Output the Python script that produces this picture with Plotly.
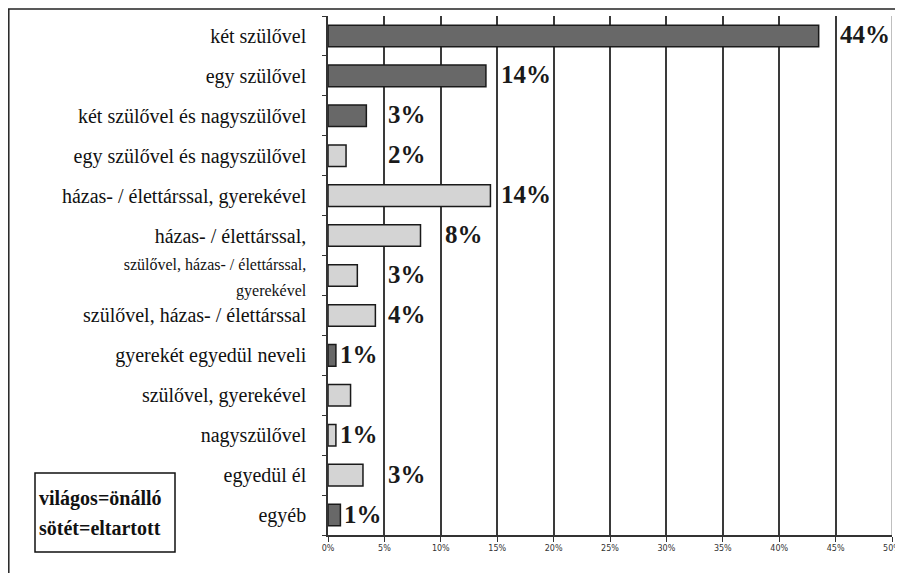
import math
import plotly.graph_objects as go

categories = [
    "két szülővel",
    "egy szülővel",
    "két szülővel és nagyszülővel",
    "egy szülővel és nagyszülővel",
    "házas- / élettárssal, gyerekével",
    "házas- / élettárssal,",
    "szülővel, házas- / élettárssal, gyerekével",
    "szülővel, házas- / élettárssal",
    "gyerekét egyedül neveli",
    "szülővel, gyerekével",
    "nagyszülővel",
    "egyedül él",
    "egyéb",
]
values = [43.5, 14.0, 3.4, 1.6, 14.4, 8.2, 2.6, 4.2, 0.7, 2.0, 0.7, 3.1, 1.1]
value_labels = ["44%", "14%", "3%", "2%", "14%", "8%", "3%", "4%", "1%", "", "1%", "3%", "1%"]
status = ["sötét", "sötét", "sötét", "világos", "világos", "világos", "világos",
          "világos", "sötét", "világos", "világos", "világos", "sötét"]
x_ticks = [0, 5, 10, 15, 20, 25, 30, 35, 40, 45, 50]
x_tick_labels = ["0%", "5%", "10%", "15%", "20%", "25%", "30%", "35%", "40%", "45%", "50%"]
legend_lines = ["világos=önálló", "sötét=eltartott"]

SERIF = "Liberation Serif, Times New Roman, Times, serif"
fill = {"sötét": "#686868", "világos": "#d4d4d4"}
colors = [fill[s] for s in status]

# page body has an 8px margin; figure sized to fit the viewport exactly
W, H = 895, 565
ML, MR, MT, MB = 320, 11, 8, 38
PW, PH = W - ML - MR, H - MT - MB


def px_x(x):
    return (x - ML) / PW


def px_y(y):
    return (H - MB - y) / PH


ticktext = []
for c in categories:
    if c == "szülővel, házas- / élettárssal, gyerekével":
        ticktext.append("<span style='font-size:16px'>szülővel, házas- / élettárssal,<br>gyerekével</span>")
    else:
        ticktext.append(c)

fig = go.Figure()
fig.add_trace(go.Bar(
    y=categories,
    x=values,
    orientation="h",
    width=0.54,
    marker=dict(color=colors, line=dict(color="#1a1a1a", width=1.5)),
    hoverinfo="skip",
))

# value labels: next gridline for larger bars, right after bar for tiny ones
for c, v, t in zip(categories, values, value_labels):
    if not t:
        continue
    lx = math.ceil(v / 5) * 5 if v >= 1.5 else v
    fig.add_annotation(
        x=lx, y=c, text="<b>" + t + "</b>", showarrow=False,
        xanchor="left", yanchor="middle", xshift=2, yshift=1,
        font=dict(family=SERIF, size=25, color="#1a1a1a"),
    )

# outer frame (top and left edges)
fig.add_shape(type="line", xref="paper", yref="paper",
              x0=px_x(0), x1=px_x(W), y0=px_y(1), y1=px_y(1),
              line=dict(color="#222", width=1.5))
fig.add_shape(type="line", xref="paper", yref="paper",
              x0=px_x(0.8), x1=px_x(0.8), y0=px_y(1), y1=px_y(H),
              line=dict(color="#222", width=1.5))

# 50% gridline in gray
fig.add_shape(type="line", xref="x", yref="paper", x0=50, x1=50, y0=0, y1=1,
              line=dict(color="#aaaaaa", width=1.5), layer="above")

# legend box
fig.add_shape(type="rect", xref="paper", yref="paper",
              x0=px_x(27), x1=px_x(167), y0=px_y(544), y1=px_y(465),
              line=dict(color="#111", width=1.5), fillcolor="white")
for i, line in enumerate(legend_lines):
    fig.add_annotation(
        xref="paper", yref="paper", x=px_x(29), y=px_y(490 + 30 * i),
        text="<b>" + line + "</b>", showarrow=False, xanchor="left", yanchor="middle",
        font=dict(family=SERIF, size=20, color="#111"),
    )

fig.update_layout(
    width=W, height=H,
    margin=dict(l=ML, r=MR, t=MT, b=MB, autoexpand=False),
    paper_bgcolor="white", plot_bgcolor="white",
    showlegend=False,
    font=dict(family=SERIF, color="#111"),
)
fig.update_xaxes(
    range=[0, 50], tickvals=x_ticks, ticktext=x_tick_labels,
    showgrid=True, gridcolor="#3a3a3a", gridwidth=1.6,
    showline=True, linecolor="#333333", linewidth=1.5,
    ticks="outside", ticklen=5, tickcolor="#333333",
    tickfont=dict(family="DejaVu Sans", size=8, color="#333"),
    zeroline=False, fixedrange=True, automargin=False,
)
fig.update_yaxes(
    categoryorder="array", categoryarray=categories,
    tickvals=categories, ticktext=ticktext,
    autorange="reversed",
    showline=True, linecolor="#333333", linewidth=1.5,
    ticks="outside", ticklen=4, tickcolor="#333333", tickson="boundaries",
    tickfont=dict(family=SERIF, size=20, color="#111"),
    ticklabelstandoff=16,
    showgrid=False, fixedrange=True, automargin=False,
)

fig.write_html("out.html")
